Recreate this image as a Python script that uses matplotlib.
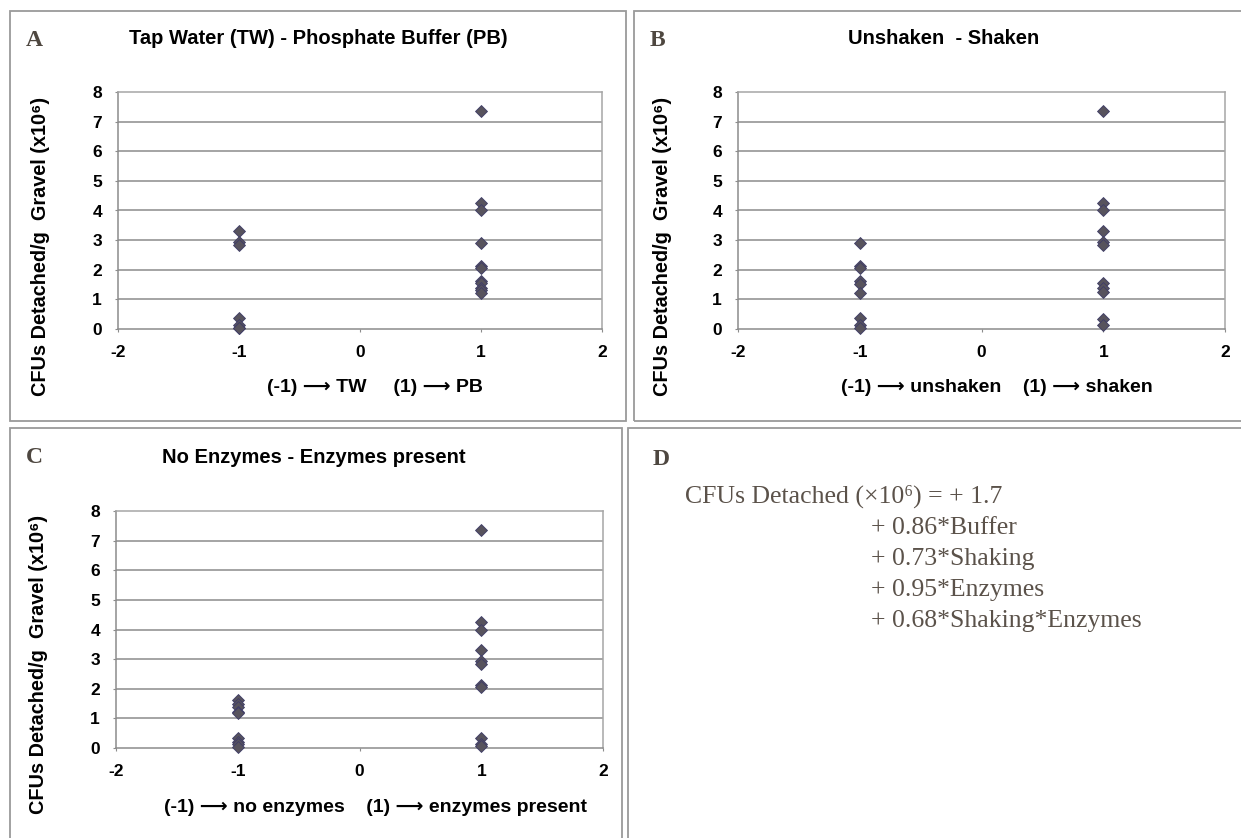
import matplotlib.pyplot as plt
from matplotlib.patches import Rectangle

plt.rcParams['axes.unicode_minus'] = False

W, H = 1241, 838

# values (CFUs detached / g gravel, x10^6)
a_low = [3.3, 2.95, 2.85, 0.38, 0.12, 0.05, 0.02]          # tap water
a_high = [7.35, 4.25, 4.0, 2.9, 2.12, 2.05, 1.62, 1.55, 1.4, 1.3, 1.2]  # phosphate buffer
b_low = [2.9, 2.12, 2.05, 1.62, 1.52, 1.2, 0.38, 0.12, 0.05]  # unshaken
b_high = [7.35, 4.25, 4.0, 3.3, 2.95, 2.85, 1.55, 1.4, 1.25, 0.35, 0.12]  # shaken
c_low = [1.62, 1.5, 1.38, 1.22, 1.18, 0.35, 0.2, 0.12, 0.02]  # no enzymes
c_high = [7.35, 4.25, 4.0, 3.3, 2.95, 2.85, 2.12, 2.05, 0.35, 0.12, 0.08]  # enzymes

titles = ["Tap Water (TW) - Phosphate Buffer (PB)", "Unshaken  - Shaken",
          "No Enzymes - Enzymes present"]
xlabels = ["(-1) \u27f6 TW     (1) \u27f6 PB",
           "(-1) \u27f6 unshaken    (1) \u27f6 shaken",
           "(-1) \u27f6 no enzymes    (1) \u27f6 enzymes present"]
ylabel = "CFUs Detached/g  Gravel (x10\u2076)"
xticks = [-2, -1, 0, 1, 2]
yticks = [0, 1, 2, 3, 4, 5, 6, 7, 8]

eq_lines = ["CFUs Detached (\u00d710\u2076) = + 1.7",
            "+ 0.86*Buffer", "+ 0.73*Shaking", "+ 0.95*Enzymes",
            "+ 0.68*Shaking*Enzymes"]

sans = ['Liberation Sans', 'DejaVu Sans']
serif = ['Liberation Serif', 'DejaVu Serif']
letter_col = '#4e4740'

fig = plt.figure(figsize=(W / 100, H / 100), dpi=100)


def fx(x):
    return x / W


def fy(y):
    return 1 - y / H


def box(x0, y0, x1, y1):
    fig.add_artist(Rectangle((fx(x0), fy(y1)), fx(x1 - x0), (y1 - y0) / H,
                             transform=fig.transFigure, fill=False,
                             edgecolor='#9a9a9a', lw=1.3))


def panel(rect, low, high, title, xlab, letter, title_xy, xlab_xy, ylab_xy, letter_xy):
    left, top, right, bottom = rect
    ax = fig.add_axes([fx(left), fy(bottom), fx(right - left), (bottom - top) / H])
    ax.set_xlim(-2, 2)
    ax.set_ylim(0, 8)
    ax.set_xticks(xticks)
    ax.set_yticks(yticks)
    for y in yticks[1:-1]:
        ax.axhline(y, color='#8c8c8c', lw=1.1, zorder=1)
    for s in ax.spines.values():
        s.set_color('#a6a6a6')
        s.set_linewidth(1.1)
    ax.spines['bottom'].set_color('#8c8c8c')
    ax.spines['left'].set_color('#8c8c8c')
    ax.tick_params(axis='x', direction='out', length=2.5, color='#8c8c8c', pad=9, labelsize=12.5)
    ax.tick_params(axis='y', direction='out', length=2.5, color='#8c8c8c', pad=9, labelsize=12.5)
    for lab in ax.get_xticklabels() + ax.get_yticklabels():
        lab.set_fontweight('bold')
        lab.set_family(sans)
    ax.plot([-1] * len(low), low, 'D', ms=6.2, mfc='#57535d', mec='#3e3c68', mew=0.6,
            zorder=3, clip_on=False)
    ax.plot([1] * len(high), high, 'D', ms=6.2, mfc='#57535d', mec='#3e3c68', mew=0.6,
            zorder=3, clip_on=False)

    fig.text(fx(title_xy[0]), fy(title_xy[1]), title, ha='center', va='center',
             fontsize=14.5, fontweight='bold', family=sans)
    fig.text(fx(xlab_xy[0]), fy(xlab_xy[1]), xlab, ha='center', va='center',
             fontsize=14, fontweight='bold', family=sans)
    fig.text(fx(ylab_xy[0]), fy(ylab_xy[1]), ylabel, ha='center', va='center',
             rotation=90, fontsize=14.3, fontweight='bold', family=sans)
    fig.text(fx(letter_xy[0]), fy(letter_xy[1]), letter, ha='center', va='center',
             fontsize=17, fontweight='bold', family=serif, color=letter_col)


# panel frames
box(9.5, 11, 626, 421)
box(634, 11, 1245, 421)
box(9.5, 428, 622, 845)
box(628, 428, 1245, 845)

panel((118, 92, 602, 329), a_low, a_high, titles[0], xlabels[0], 'A',
      (318, 38), (375, 387), (41, 246), (34, 41))
panel((738, 92, 1225, 329), b_low, b_high, titles[1], xlabels[1], 'B',
      (944, 38), (997, 387), (663, 246), (657, 41))
panel((116, 511, 603, 748), c_low, c_high, titles[2], xlabels[2], 'C',
      (314, 457), (375, 807), (39, 664), (34, 457))

# panel D: fitted model
fig.text(fx(661), fy(459), 'D', ha='center', va='center', fontsize=17,
         fontweight='bold', family=serif, color=letter_col)
text_col = '#5b524a'
fig.text(fx(685), fy(503), eq_lines[0], ha='left', va='baseline', fontsize=18.5,
         family=serif, color=text_col)
for i, line in enumerate(eq_lines[1:]):
    fig.text(fx(871), fy(534 + 31 * i), line, ha='left', va='baseline', fontsize=18.5,
             family=serif, color=text_col)

fig.savefig('out.png', dpi=100)
